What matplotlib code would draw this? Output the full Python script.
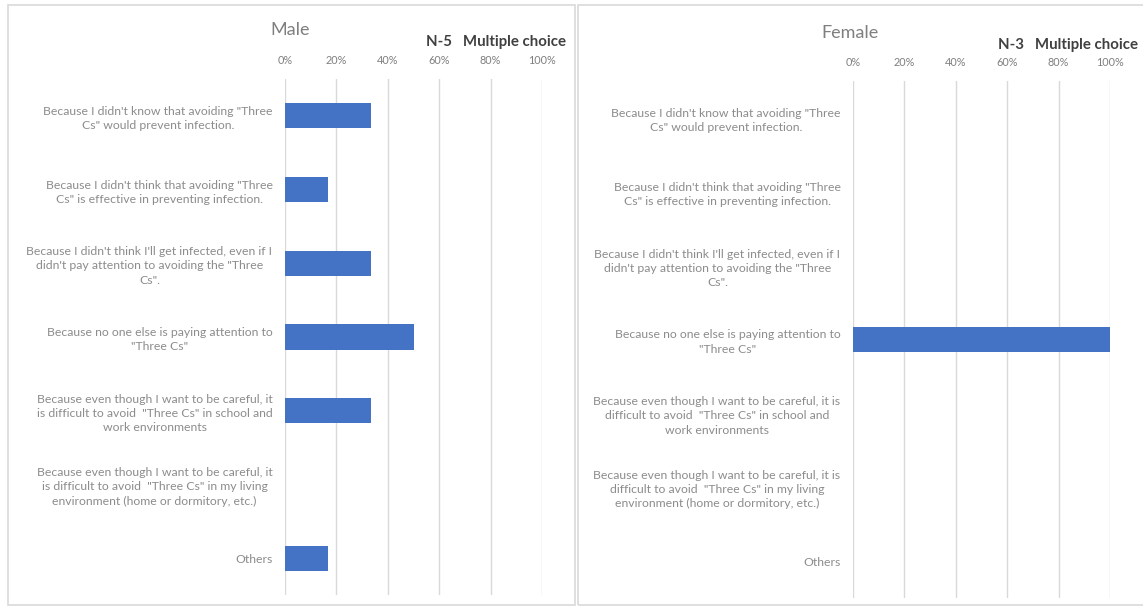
import matplotlib.pyplot as plt
from matplotlib.patches import Rectangle
from matplotlib.ticker import FuncFormatter

plt.rcParams['font.family'] = ['Lato', 'DejaVu Sans']

male_labels = [
    'Because I didn\'t know that avoiding "Three\nCs" would prevent infection.',
    'Because I didn\'t think that avoiding "Three\nCs" is effective in preventing infection.',
    'Because I didn\'t think I\'ll get infected, even if I\ndidn\'t pay attention to avoiding the "Three\nCs".',
    'Because no one else is paying attention to\n"Three Cs"',
    'Because even though I want to be careful, it\nis difficult to avoid  "Three Cs" in school and\nwork environments',
    'Because even though I want to be careful, it\nis difficult to avoid  "Three Cs" in my living\nenvironment (home or dormitory, etc.)',
    'Others',
]
female_labels = [
    'Because I didn\'t know that avoiding "Three\nCs" would prevent infection.',
    'Because I didn\'t think that avoiding "Three\nCs" is effective in preventing infection.',
    'Because I didn\'t think I\'ll get infected, even if I\ndidn\'t pay attention to avoiding the "Three\nCs".',
    'Because no one else is paying attention to\n"Three Cs"',
    'Because even though I want to be careful, it is\ndifficult to avoid  "Three Cs" in school and\nwork environments',
    'Because even though I want to be careful, it is\ndifficult to avoid  "Three Cs" in my living\nenvironment (home or dormitory, etc.)',
    'Others',
]
male_values = [33.3, 16.7, 33.3, 50.0, 33.3, 0.0, 16.7]
female_values = [0, 0, 0, 100, 0, 0, 0]
x_ticks = [0, 20, 40, 60, 80, 100]

W, H = 1143, 608
fig = plt.figure(figsize=(W / 100, H / 100), dpi=100)

# panel frames
for x0, x1 in [(8, 575), (578, 1150)]:
    fig.patches.append(Rectangle((x0 / W, 1 - 605 / H), (x1 - x0) / W, 600 / H,
                                 transform=fig.transFigure, fill=False,
                                 edgecolor='#d9d9d9', linewidth=1.2))

gray = '#7f7f7f'
bar_col = '#4472C4'


def panel(left, right, top, bottom, labels, values, title, n_text, title_x, note_x, title_y):
    ax = fig.add_axes([left / W, 1 - bottom / H, (right - left) / W, (bottom - top) / H])
    y = list(range(len(labels)))
    ax.barh(y, values, height=0.34, color=bar_col, zorder=3)
    ax.set_ylim(len(labels) - 0.5, -0.5)
    ax.set_xlim(0, 100)
    ax.set_xticks(x_ticks)
    ax.xaxis.set_major_formatter(FuncFormatter(lambda v, p: f'{v:.0f}%'))
    ax.xaxis.tick_top()
    ax.tick_params(axis='x', length=0, labelsize=7.8, labelcolor=gray, pad=9)
    ax.set_yticks(y)
    ax.set_yticklabels(labels, fontsize=8.8, color='#8c8c8c', multialignment='center',
                       linespacing=1.35)
    ax.tick_params(axis='y', length=0, pad=9)
    ax.grid(axis='x', color='#d9d9d9', linewidth=1, zorder=0)
    for s in ax.spines.values():
        s.set_visible(False)
    fig.text(title_x / W, 1 - title_y / H, title, fontsize=13, color=gray,
             ha='center', va='center')
    fig.text(note_x / W, 1 - (title_y + 12) / H, n_text + '   Multiple choice',
             fontsize=10.8, fontweight='bold', color='#404040', ha='left', va='center')
    return ax


panel(285, 542, 79, 595, male_labels, male_values, 'Male', 'N-5', 290, 426, 30)
panel(853, 1110, 81, 598, female_labels, female_values, 'Female', 'N-3', 850, 998, 33)

fig.savefig('out.png', dpi=100)
